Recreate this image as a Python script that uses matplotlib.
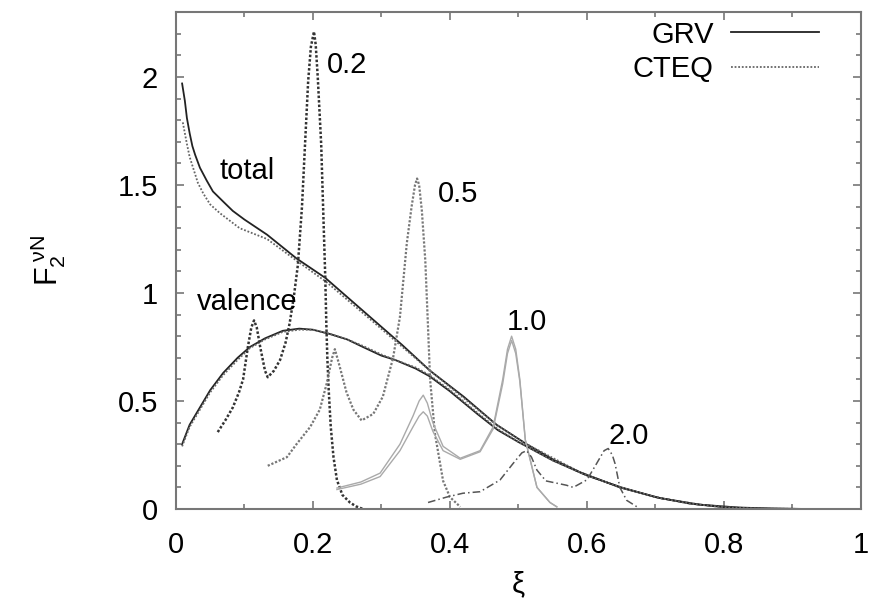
import matplotlib
matplotlib.use("Agg")
import matplotlib.pyplot as plt
from matplotlib.ticker import MultipleLocator

plt.rcParams['font.family'] = ['Liberation Sans', 'DejaVu Sans']
plt.rcParams['mathtext.fontset'] = 'custom'
plt.rcParams['mathtext.rm'] = 'Liberation Sans'
plt.rcParams['mathtext.it'] = 'Liberation Sans'

# GRV total
x_tot = [0.009, 0.011, 0.013, 0.016, 0.02, 0.024, 0.028, 0.035, 0.045, 0.054, 0.07, 0.083, 0.1,
         0.133, 0.176, 0.218, 0.283, 0.33, 0.371, 0.42, 0.468, 0.512, 0.55, 0.59, 0.648,
         0.707, 0.765, 0.82, 0.87, 0.922]
y_tot = [1.97, 1.93, 1.89, 1.81, 1.74, 1.68, 1.64, 1.58, 1.52, 1.47, 1.42, 1.38, 1.34,
         1.27, 1.16, 1.07, 0.89, 0.76, 0.64, 0.52, 0.39, 0.30, 0.23, 0.17, 0.10,
         0.05, 0.02, 0.007, 0.002, 0.0]
# CTEQ total
x_tot_c = [0.01, 0.013, 0.016, 0.02, 0.025, 0.032, 0.04, 0.05, 0.064, 0.093, 0.133, 0.176,
           0.22, 0.283, 0.371, 0.468, 0.512, 0.59, 0.648, 0.707, 0.765, 0.82, 0.87, 0.92]
y_tot_c = [1.79, 1.74, 1.69, 1.63, 1.58, 1.51, 1.46, 1.41, 1.37, 1.30, 1.25, 1.15,
           1.05, 0.88, 0.64, 0.39, 0.30, 0.17, 0.10, 0.05, 0.02, 0.006, 0.001, 0.0]
# GRV valence
x_val = [0.009, 0.02, 0.035, 0.05, 0.069, 0.09, 0.108, 0.13, 0.156, 0.18, 0.2, 0.225, 0.25,
         0.273, 0.3, 0.32, 0.35, 0.37, 0.4, 0.44, 0.47, 0.5, 0.55, 0.6, 0.65, 0.7, 0.75, 0.8,
         0.85, 0.92]
y_val = [0.30, 0.39, 0.47, 0.55, 0.63, 0.70, 0.75, 0.79, 0.825, 0.835, 0.83, 0.81, 0.785,
         0.75, 0.71, 0.69, 0.65, 0.615, 0.545, 0.44, 0.365, 0.31, 0.225, 0.155, 0.10, 0.055,
         0.025, 0.008, 0.002, 0.0]
# CTEQ valence
y_val_c = [0.29, 0.38, 0.46, 0.54, 0.62, 0.69, 0.745, 0.785, 0.82, 0.83, 0.83, 0.81, 0.785,
           0.755, 0.715, 0.69, 0.655, 0.62, 0.55, 0.445, 0.37, 0.31, 0.225, 0.155, 0.10, 0.055,
           0.025, 0.008, 0.002, 0.0]

# resonance curves, Q^2 = 0.2, 0.5, 1.0, 2.0
x_q02 = [0.061, 0.072, 0.083, 0.092, 0.098, 0.105, 0.11, 0.114, 0.118, 0.123, 0.13, 0.134,
         0.143, 0.152, 0.16, 0.166, 0.172, 0.178, 0.184, 0.188, 0.193, 0.197, 0.2015, 0.204,
         0.207, 0.212, 0.215, 0.218, 0.2195, 0.221, 0.223, 0.226, 0.23, 0.235, 0.243, 0.254,
         0.263, 0.273]
y_q02 = [0.356, 0.41, 0.47, 0.54, 0.6, 0.75, 0.84, 0.873, 0.84, 0.75, 0.64, 0.61,
         0.64, 0.69, 0.77, 0.86, 0.98, 1.13, 1.40, 1.66, 1.98, 2.14, 2.21, 2.15,
         2.0, 1.69, 1.38, 1.07, 0.86, 0.7, 0.55, 0.38, 0.24, 0.134, 0.065, 0.03,
         0.012, 0.0]

x_q05 = [0.134, 0.162, 0.176, 0.196, 0.21, 0.22, 0.228, 0.232, 0.239, 0.249, 0.259, 0.271,
         0.288, 0.302, 0.317, 0.327, 0.337, 0.344, 0.349, 0.352, 0.355, 0.359, 0.364, 0.368,
         0.371, 0.378, 0.39, 0.40, 0.415]
y_q05 = [0.20, 0.24, 0.30, 0.38, 0.46, 0.58, 0.70, 0.74, 0.66, 0.54, 0.46, 0.41,
         0.44, 0.52, 0.70, 0.89, 1.23, 1.40, 1.50, 1.53, 1.50, 1.38, 1.15, 0.84,
         0.60, 0.35, 0.13, 0.055, 0.01]

x_q10 = [0.235, 0.27, 0.298, 0.327, 0.346, 0.355, 0.361, 0.367, 0.375, 0.39, 0.415, 0.444,
         0.463, 0.477, 0.484, 0.49, 0.496, 0.502, 0.51, 0.527, 0.546, 0.556]
y_q10 = [0.097, 0.125, 0.166, 0.30, 0.43, 0.50, 0.527, 0.49, 0.40, 0.29, 0.235, 0.27,
         0.38, 0.60, 0.74, 0.80, 0.74, 0.60, 0.32, 0.10, 0.03, 0.01]
y_q10_c = [0.09, 0.115, 0.15, 0.27, 0.38, 0.43, 0.45, 0.43, 0.36, 0.27, 0.23, 0.265,
           0.37, 0.58, 0.72, 0.78, 0.72, 0.59, 0.32, 0.10, 0.03, 0.01]

x_q20 = [0.368, 0.395, 0.419, 0.444, 0.473, 0.492, 0.505, 0.512, 0.519, 0.527, 0.54, 0.57,
         0.58, 0.60, 0.614, 0.625, 0.631, 0.637, 0.641, 0.648, 0.658, 0.673]
y_q20 = [0.03, 0.055, 0.073, 0.08, 0.134, 0.21, 0.26, 0.27, 0.24, 0.18, 0.13, 0.11,
         0.10, 0.135, 0.21, 0.27, 0.28, 0.25, 0.21, 0.10, 0.04, 0.01]

x_ticks = [0, 0.2, 0.4, 0.6, 0.8, 1]
x_ticklabels = ['0', '0.2', '0.4', '0.6', '0.8', '1']
y_ticks = [0, 0.5, 1, 1.5, 2]
y_ticklabels = ['0', '0.5', '1', '1.5', '2']

fig = plt.figure(figsize=(8.71, 6.10), dpi=100)
ax = fig.add_axes([0.202, 0.1656, 0.7865, 0.8144])

l_grv, = ax.plot(x_tot, y_tot, color='#222222', lw=1.3)
l_cteq, = ax.plot(x_tot_c, y_tot_c, color='#666666', lw=1.3, ls=(0, (1, 1)))
ax.plot(x_val, y_val, color='#222222', lw=1.3)
ax.plot(x_val, y_val_c, color='#666666', lw=1.3, ls=(0, (1, 1)))

ax.plot(x_q02, y_q02, color='#333333', lw=1.8, ls=(0, (1, 0.8)))
ax.plot(x_q05, y_q05, color='#777777', lw=1.6, ls=(0, (1, 0.8)))
ax.plot(x_q10, y_q10, color='#aaaaaa', lw=1.0)
ax.plot(x_q10, y_q10_c, color='#aaaaaa', lw=1.0)
ax.plot(x_q20, y_q20, color='#555555', lw=1.1, ls=(0, (5, 2, 1, 2)))

ax.set_xlim(0, 1)
ax.set_ylim(0, 2.3)
ax.set_xticks(x_ticks)
ax.set_xticklabels(x_ticklabels)
ax.set_yticks(y_ticks)
ax.set_yticklabels(y_ticklabels)
ax.xaxis.set_minor_locator(MultipleLocator(0.1))
ax.yaxis.set_minor_locator(MultipleLocator(0.1))
ax.tick_params(which='both', direction='in', top=True, right=True, colors='#777777',
               labelcolor='black', labelsize=21, width=1.2)
ax.tick_params(which='major', length=6)
ax.tick_params(which='minor', length=3.5)
ax.tick_params(axis='x', which='major', pad=16)
ax.tick_params(axis='y', which='major', pad=13)
for s in ax.spines.values():
    s.set_color('#777777')
    s.set_linewidth(1.5)

ax.set_xlabel('ξ', fontsize=21, labelpad=8)
ax.set_ylabel(r'$\mathregular{F_2^{\ \nu N}}$', fontsize=22, labelpad=36)

ax.text(0.063, 1.53, 'total', fontsize=21)
ax.text(0.03, 0.92, 'valence', fontsize=21)
ax.text(0.221, 2.02, '0.2', fontsize=21)
ax.text(0.382, 1.42, '0.5', fontsize=21)
ax.text(0.483, 0.83, '1.0', fontsize=21)
ax.text(0.631, 0.30, '2.0', fontsize=21)

# legend: one entry per legend so that each text sits right-aligned before its line
leg1 = ax.legend([l_grv], ['GRV'], loc='upper right', bbox_to_anchor=(0.947, 0.995),
                 frameon=False, markerfirst=False, fontsize=21, handlelength=3.0,
                 handletextpad=0.6, borderaxespad=0.1, borderpad=0.1)
ax.add_artist(leg1)
ax.legend([l_cteq], ['CTEQ'], loc='upper right', bbox_to_anchor=(0.947, 0.926),
          frameon=False, markerfirst=False, fontsize=21, handlelength=3.0,
          handletextpad=0.6, borderaxespad=0.1, borderpad=0.1)

fig.savefig('out.png', dpi=100)
